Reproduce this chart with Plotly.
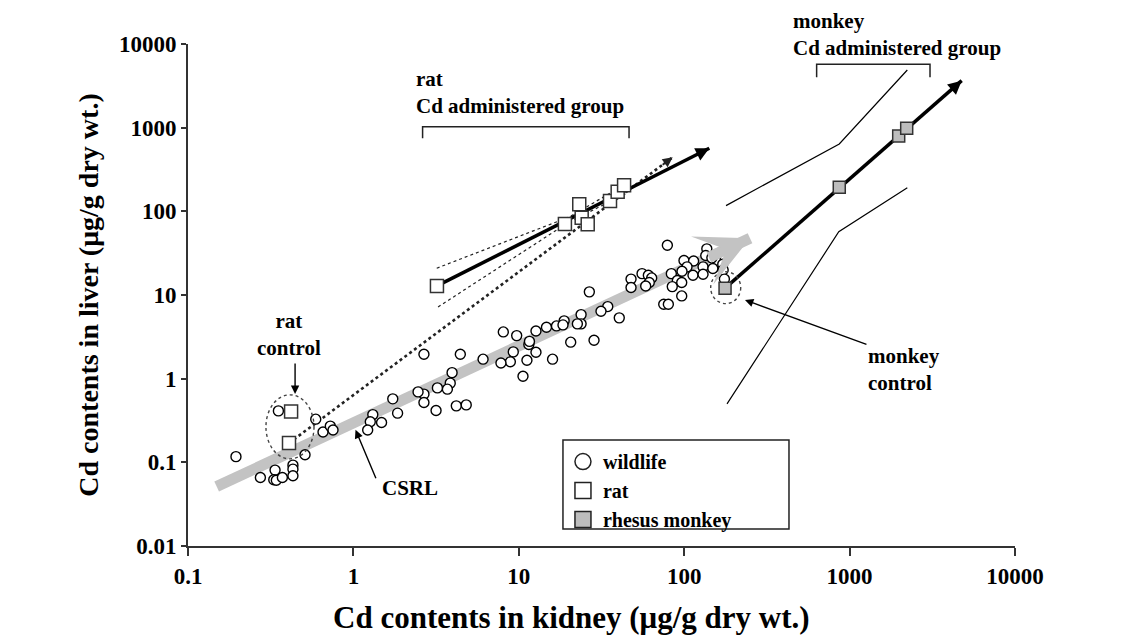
import numpy as np
import plotly.graph_objects as go

FONT = "Liberation Serif"
INK = "#222222"

# ---------------- data ----------------
wild_x = [0.195, 0.352, 0.592, 0.510, 0.655, 0.725, 0.753, 1.31, 1.265, 1.22, 0.274, 0.336, 0.330, 0.342,
          0.372, 0.431, 0.431, 0.431,
          8.06, 9.71, 12.7, 14.7, 16.9, 11.5, 11.6, 9.26, 12.7, 16.0, 11.2, 8.89, 7.80, 10.6, 6.08, 4.43,
          2.67, 3.95, 3.85, 3.70, 3.22, 2.67, 2.46, 2.67, 3.16, 4.19, 4.81, 1.73, 1.85, 1.48,
          79.1, 137, 193, 135, 147, 177, 99.7, 114, 104, 130, 171, 149, 172, 97, 113, 130, 83.6, 175,
          55.6, 60.7, 63.6, 47.7, 61.5, 90.9, 96.6, 58.5, 47.7, 84.7, 96.6, 26.7, 75.2, 80.2, 34.5, 31.4,
          40.5, 23.8, 23.8, 22.6, 18.8, 18.5, 20.6, 28.5]
wild_y = [0.117, 0.412, 0.328, 0.123, 0.230, 0.271, 0.243, 0.372, 0.305, 0.243, 0.0658, 0.0807, 0.0618, 0.0612,
          0.0658, 0.0926, 0.0829, 0.069,
          3.62, 3.27, 3.72, 4.12, 4.27, 2.56, 2.79, 2.09, 2.07, 1.71, 1.66, 1.59, 1.54, 1.07, 1.71, 1.96,
          1.96, 1.18, 0.884, 0.749, 0.776, 0.653, 0.695, 0.518, 0.416, 0.473, 0.486, 0.574, 0.387, 0.299,
          39.4, 35.6, 35.6, 29.6, 27.8, 27.0, 25.8, 25.5, 21.7, 21.7, 23.3, 20.7, 19.9, 19.2, 17.2, 17.7, 18.0, 15.5,
          18.0, 17.2, 16.0, 15.5, 14.1, 14.9, 14.1, 12.8, 12.3, 12.6, 9.75, 10.9, 7.76, 7.76, 7.27, 6.40,
          5.33, 5.83, 4.52, 4.52, 4.91, 4.39, 2.73, 2.88]

rat_ctrl_x = [0.420, 0.408]
rat_ctrl_y = [0.404, 0.170]
rat_dose_x = [3.2, 19.0, 23.2, 24.0, 26.1, 35.6, 39.6, 43.3]
rat_dose_y = [12.85, 70.7, 121.6, 84.1, 70.2, 133, 172, 205]

monkey_x = [176.6, 866, 1981, 2214]
monkey_y = [12.06, 194, 796, 984]

# trend lines (start, arrow tip)
csrl_x = [0.149, 250]
csrl_y = [0.0514, 47.7]
rat_fit_x = [3.2, 141.8]
rat_fit_y = [12.85, 567]
rat_all_x = [0.408, 85.2]
rat_all_y = [0.170, 443]
monkey_fit_x = [176.6, 4760]
monkey_fit_y = [12.06, 3644]

# confidence bands
rat_ci_up_x = [3.19, 20, 45]
rat_ci_up_y = [20.9, 85, 215]
rat_ci_lo_x = [3.25, 20, 45]
rat_ci_lo_y = [7.2, 74, 165]
mk_ci_up_x = [179, 866, 2233]
mk_ci_up_y = [117, 639, 4890]
mk_ci_lo_x = [181.5, 860, 2233]
mk_ci_lo_y = [0.50, 57, 192]

# brackets
rat_br_x = [2.62, 2.62, 46.4, 46.4]
rat_br_y = [747, 1028, 1028, 747]
mk_br_x = [632, 632, 3063, 3063]
mk_br_y = [4000, 5720, 5720, 4000]

# dotted ellipses (x0, x1, y0, y1)
rat_ell = [0.296, 0.578, 0.110, 0.641]
mk_ell = [144.6, 219.6, 7.89, 19.0]

tick_vals_x = [0.1, 1, 10, 100, 1000, 10000]
tick_text_x = ["0.1", "1", "10", "100", "1000", "10000"]
tick_vals_y = [0.01, 0.1, 1, 10, 100, 1000, 10000]
tick_text_y = ["0.01", "0.1", "1", "10", "100", "1000", "10000"]

L = np.log10
fig = go.Figure()


def line(xs, ys, width, color, dash="solid"):
    fig.add_trace(go.Scatter(x=xs, y=ys, mode="lines", showlegend=False, hoverinfo="skip",
                             line=dict(color=color, width=width, dash=dash)))


def head(xs, ys, width, color, style, size, frac):
    lx0, lx1 = L(xs[0]), L(xs[-1])
    ly0, ly1 = L(ys[0]), L(ys[-1])
    fig.add_annotation(x=lx1, y=ly1, ax=lx0 + frac * (lx1 - lx0), ay=ly0 + frac * (ly1 - ly0),
                       xref="x", yref="y", axref="x", ayref="y", text="", showarrow=True,
                       arrowhead=style, arrowsize=size, arrowwidth=width, arrowcolor=color, standoff=0)


# CSRL broad grey arrow
line(csrl_x, csrl_y, 11, "#c3c3c3")
head(csrl_x, csrl_y, 11, "#c3c3c3", 3, 0.8, 0.92)

# rat lines
line(rat_ci_up_x, rat_ci_up_y, 1.2, INK, "dot")
line(rat_ci_lo_x, rat_ci_lo_y, 1.2, INK, "dot")
line(rat_all_x, rat_all_y, 2.6, INK, "dot")
head(rat_all_x, rat_all_y, 2, INK, 2, 1.0, 0.97)
line(rat_fit_x, rat_fit_y, 3.5, "black")
head(rat_fit_x, rat_fit_y, 3, "black", 2, 0.9, 0.95)

# monkey lines
line(mk_ci_up_x, mk_ci_up_y, 1.2, "black")
line(mk_ci_lo_x, mk_ci_lo_y, 1.2, "black")
line(monkey_fit_x, monkey_fit_y, 3.5, "black")
head(monkey_fit_x, monkey_fit_y, 3, "black", 2, 0.9, 0.96)

# brackets
line(rat_br_x, rat_br_y, 1.5, INK)
line(mk_br_x, mk_br_y, 1.5, INK)

# markers
fig.add_trace(go.Scatter(x=wild_x, y=wild_y, mode="markers", showlegend=False,
                         marker=dict(symbol="circle", size=10, color="white", line=dict(color="black", width=1.4))))
fig.add_trace(go.Scatter(x=rat_ctrl_x + rat_dose_x, y=rat_ctrl_y + rat_dose_y, mode="markers", showlegend=False,
                         marker=dict(symbol="square", size=13, color="white", line=dict(color="#333", width=1.5))))
fig.add_trace(go.Scatter(x=monkey_x, y=monkey_y, mode="markers", showlegend=False,
                         marker=dict(symbol="square", size=12, color="#bdbdbd", line=dict(color="#333", width=1.5))))

# legend entries
for nm, sym, col in [("wildlife", "circle", "white"), ("rat", "square", "white"),
                     ("rhesus monkey", "square", "#bdbdbd")]:
    fig.add_trace(go.Scatter(x=[None], y=[None], mode="markers", name=nm,
                             marker=dict(symbol=sym, size=16, color=col, line=dict(color="#222", width=1.5))))

# ellipses
for e in (rat_ell, mk_ell):
    fig.add_shape(type="circle", xref="x", yref="y", x0=e[0], x1=e[1], y0=e[2], y1=e[3],
                  line=dict(color="#444", width=1.4, dash="dot"))

# legend frame
fig.add_shape(type="rect", xref="paper", yref="paper", x0=0.4534, x1=0.7267, y0=0.0339, y1=0.2112,
              line=dict(color="#222", width=1.5), fillcolor="rgba(0,0,0,0)")

tf = dict(family=FONT, size=21, color="black", weight="bold")

fig.add_annotation(x=L(2.32), y=L(2600), xref="x", yref="y", text="rat<br>Cd administered group",
                   showarrow=False, xanchor="left", yanchor="middle", align="left", font=tf)
fig.add_annotation(x=0.7303, y=1.019, xref="paper", yref="paper", text="monkey<br>Cd administered group",
                   showarrow=False, xanchor="left", yanchor="middle", align="left", font=tf, borderpad=0)
fig.add_annotation(x=L(0.408), y=L(3.38), xref="x", yref="y", text="rat<br>control",
                   showarrow=False, xanchor="center", yanchor="middle", align="center", font=tf)
fig.add_annotation(x=L(1256), y=L(1.27), xref="x", yref="y", text="monkey<br>control",
                   showarrow=False, xanchor="left", yanchor="middle", align="left", font=tf)
fig.add_annotation(x=L(2.2), y=L(0.0496), xref="x", yref="y", text="CSRL",
                   showarrow=False, xanchor="center", yanchor="middle", font=tf)

# x-axis title (sits left of the plot centre in the reference)
fig.add_annotation(x=0.464, y=-0.143, xref="paper", yref="paper", text="Cd contents in kidney (μg/g dry wt.)",
                   showarrow=False, xanchor="center", yanchor="middle", borderpad=0,
                   font=dict(family=FONT, size=31, color="black", weight="bold"))

# pointer arrows
for hx, hy, ax, ay in [(0.444, 0.658, 0, -32), (1.03, 0.245, 21, 50), (233, 8.73, 123, 45)]:
    fig.add_annotation(x=L(hx), y=L(hy), xref="x", yref="y", ax=ax, ay=ay, text="", showarrow=True,
                       arrowhead=2, arrowsize=1.2, arrowwidth=1.4, arrowcolor="black", standoff=0)

axis_common = dict(type="log", showgrid=False, zeroline=False, showline=True, linecolor="#333", linewidth=2,
                   ticks="outside", tickwidth=2, tickcolor="#333", tickmode="array",
                   tickfont=dict(family=FONT, size=23, color="black", weight="bold"))

fig.update_xaxes(range=[-1, 4], tickvals=tick_vals_x, ticktext=tick_text_x, ticklen=8, **axis_common)
fig.update_yaxes(range=[-2, 4], tickvals=tick_vals_y, ticktext=tick_text_y, ticklen=5,
                 title=dict(text="Cd contents in liver (μg/g dry wt.)", standoff=12,
                            font=dict(family=FONT, size=28, color="black", weight="bold")),
                 **axis_common)

# page body has an 8px margin: offset the figure so the plot area lands where the reference's does
fig.update_layout(width=1131, height=632, margin=dict(l=180, r=124, t=36, b=94, autoexpand=False),
                  plot_bgcolor="white", paper_bgcolor="white", showlegend=True,
                  legend=dict(x=0.4534, y=0.207, xanchor="left", yanchor="top", bgcolor="rgba(0,0,0,0)",
                              borderwidth=0, font=dict(family=FONT, size=20, color="black", weight="bold"),
                              tracegroupgap=0, itemclick=False))

fig.write_html("out.html")
